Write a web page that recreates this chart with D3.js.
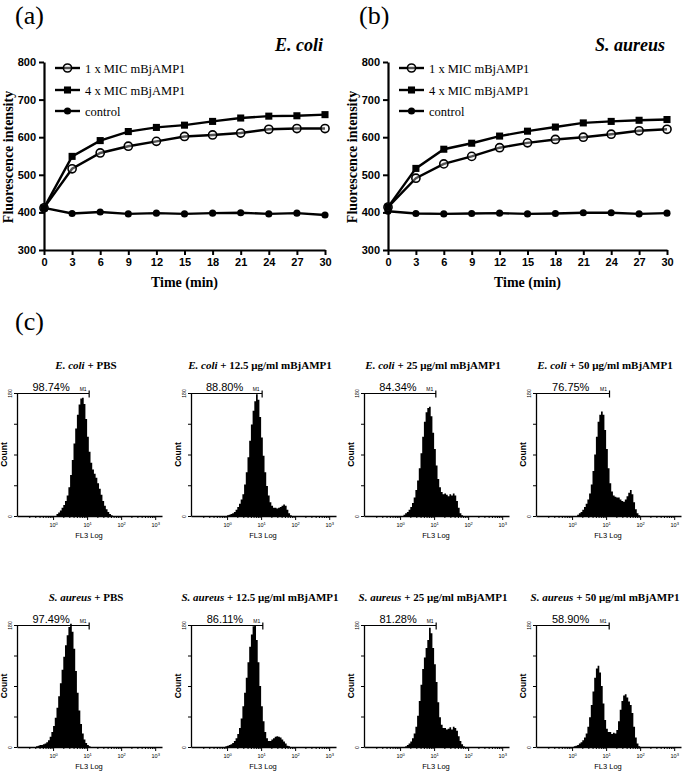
<!DOCTYPE html>
<html>
<head>
<meta charset="utf-8">
<script src="https://cdnjs.cloudflare.com/ajax/libs/d3/7.8.5/d3.min.js"></script>
<style>
  body { margin: 0; background: #fff; }
  svg { display: block; }
</style>
</head>
<body>
<svg width="685" height="773"></svg>
<script>
"use strict";

// ---- panels (a) and (b): fluorescence vs time ----
var times = [0, 3, 6, 9, 12, 15, 18, 21, 24, 27, 30];
var yTicks = [300, 400, 500, 600, 700, 800];
var seriesNames = ["1 x MIC mBjAMP1", "4 x MIC mBjAMP1", "control"];

var ecoli1x   = [412, 516, 558, 576, 589, 602, 606, 611, 621, 623, 623];
var ecoli4x   = [412, 549, 591, 615, 626, 632, 642, 651, 656, 657, 660];
var ecoliCtrl = [412, 397, 401, 396, 398, 396, 398, 399, 396, 398, 393];

var aureus1x   = [414, 491, 529, 549, 572, 585, 594, 600, 608, 617, 621];
var aureus4x   = [414, 517, 568, 584, 603, 616, 627, 638, 642, 645, 647];
var aureusCtrl = [403, 397, 396, 397, 398, 396, 397, 399, 399, 396, 398];

// ---- panel (c): flow cytometry histograms (bins of 0.05 log units) ----
var binStep = 0.05;
var decades = [1, 10, 100, 1000];
var countTicks = [0, 45, 90, 135, 180];

var ecoliPBS = [3, 5, 8, 12, 16, 22, 30, 42, 60, 82, 106, 128, 148, 163, 172, 173, 164, 142, 116, 94, 78, 68, 62, 56, 48, 40, 31, 22, 15, 10, 6, 3, 1];
var ecoli12 = [1, 2, 3, 4, 6, 9, 13, 18, 24, 32, 46, 64, 86, 110, 134, 154, 168, 178, 170, 145, 115, 88, 64, 44, 30, 20, 15, 12, 12, 11, 12, 13, 15, 17, 15, 9, 4, 1];
var ecoli25 = [2, 4, 6, 9, 13, 19, 27, 38, 52, 70, 92, 116, 138, 152, 158, 160, 146, 122, 98, 74, 54, 42, 35, 32, 33, 31, 29, 32, 30, 33, 30, 22, 12, 4, 1];
var ecoli50 = [2, 4, 6, 9, 13, 18, 24, 33, 46, 66, 90, 116, 138, 148, 153, 148, 126, 98, 70, 48, 36, 30, 28, 27, 27, 24, 22, 21, 24, 29, 34, 38, 32, 20, 10, 4, 1];
var aureusPBS = [1, 2, 3, 3, 4, 5, 7, 10, 15, 22, 31, 43, 58, 75, 94, 114, 133, 150, 165, 177, 182, 170, 145, 112, 80, 54, 34, 20, 11, 6, 3, 1];
var aureus12 = [1, 2, 3, 4, 6, 9, 13, 19, 28, 42, 60, 80, 102, 125, 148, 166, 178, 180, 158, 125, 90, 60, 38, 22, 13, 9, 9, 11, 13, 15, 16, 15, 14, 11, 8, 5, 2, 1];
var aureus25 = [1, 3, 5, 8, 13, 20, 30, 46, 68, 92, 115, 132, 146, 158, 176, 168, 146, 122, 96, 66, 44, 33, 28, 28, 26, 27, 29, 26, 30, 28, 24, 16, 9, 4, 1];
var aureus50 = [1, 2, 3, 5, 7, 10, 14, 20, 30, 44, 62, 82, 102, 116, 120, 110, 90, 64, 40, 27, 22, 22, 19, 21, 20, 25, 38, 55, 68, 76, 78, 73, 67, 62, 50, 30, 14, 5, 1];

var histCounts = [ecoliPBS, ecoli12, ecoli25, ecoli50, aureusPBS, aureus12, aureus25, aureus50];
var histStarts = [0.1, 0.0, 0.1, 0.15, -0.5, -0.05, 0.15, 0.05];
var histSpecies = ["E. coli", "E. coli", "E. coli", "E. coli", "S. aureus", "S. aureus", "S. aureus", "S. aureus"];
var histTreat = [" + PBS", " + 12.5 μg/ml mBjAMP1", " + 25 μg/ml mBjAMP1", " + 50 μg/ml mBjAMP1",
                 " + PBS", " + 12.5 μg/ml mBjAMP1", " + 25 μg/ml mBjAMP1", " + 50 μg/ml mBjAMP1"];
var histPercent = ["98.74%", "88.80%", "84.34%", "76.75%", "97.49%", "86.11%", "81.28%", "58.90%"];
var gateEnds = [1.06, 1.03, 1.05, 1.1, 1.06, 1.05, 1.06, 1.09];

var svg = d3.select("svg");
var serif = "'Liberation Serif', 'Times New Roman', serif";
var sans = "'Liberation Sans', Arial, sans-serif";

function draw_time_panel(opt) {
  var x = d3.scaleLinear().domain([0, 30]).range([opt.x0, opt.x1]);
  var y = d3.scaleLinear().domain([300, 800]).range([250, 62]);
  var g = svg.append("g");

  g.append("text")
    .attr("x", opt.labelX).attr("y", 24)
    .style("font-family", serif).style("font-size", "26px")
    .text(opt.label);

  g.append("text")
    .attr("x", opt.x1 - 2).attr("y", 51)
    .attr("text-anchor", "end")
    .style("font-family", serif).style("font-size", "18px")
    .style("font-weight", "bold").style("font-style", "italic")
    .text(opt.species);

  var yAxis = g.append("g")
    .attr("transform", "translate(" + opt.x0 + ",0)")
    .call(d3.axisLeft(y).tickValues(yTicks).tickSize(5).tickSizeOuter(0).tickPadding(3));
  var xAxis = g.append("g")
    .attr("transform", "translate(0,250)")
    .call(d3.axisBottom(x).tickValues(times).tickSize(5).tickSizeOuter(0).tickPadding(3));

  [yAxis, xAxis].forEach(function (a) {
    a.select(".domain").attr("stroke-width", 2.2);
    a.selectAll(".tick line").attr("stroke-width", 2);
    a.selectAll(".tick text")
      .style("font-family", sans).style("font-size", "11px")
      .style("font-weight", "bold").attr("fill", "#000");
  });

  g.append("text")
    .attr("transform", "translate(" + (opt.x0 - 31) + ",157) rotate(-90)")
    .attr("text-anchor", "middle")
    .style("font-family", serif).style("font-size", "14px").style("font-weight", "bold")
    .text("Fluorescence intensity");

  g.append("text")
    .attr("x", (opt.x0 + opt.x1) / 2).attr("y", 287)
    .attr("text-anchor", "middle")
    .style("font-family", serif).style("font-size", "14px").style("font-weight", "bold")
    .text("Time (min)");

  var line = d3.line()
    .x(function (d, i) { return x(times[i]); })
    .y(function (d) { return y(d); });

  // draw control first, then 1x, then 4x
  [2, 0, 1].forEach(function (k) {
    var values = opt.series[k];
    g.append("path")
      .datum(values)
      .attr("d", line)
      .attr("fill", "none")
      .attr("stroke", "#000")
      .attr("stroke-width", 2.4);
    var pts = g.append("g").selectAll("path")
      .data(values)
      .enter().append("path")
      .attr("transform", function (d, i) { return "translate(" + x(times[i]) + "," + y(d) + ")"; });
    style_marker(pts, k);
  });

  // legend
  var legY = [68, 90, 111];
  seriesNames.forEach(function (name, k) {
    var lx = opt.x0 + 11;
    g.append("line")
      .attr("x1", lx).attr("x2", lx + 25)
      .attr("y1", legY[k]).attr("y2", legY[k])
      .attr("stroke", "#000").attr("stroke-width", 2.4);
    var m = g.append("path")
      .attr("transform", "translate(" + (lx + 12.5) + "," + legY[k] + ")");
    style_marker(m, k);
    g.append("text")
      .attr("x", lx + 30).attr("y", legY[k] + 4.5)
      .style("font-family", serif).style("font-size", "12.5px")
      .text(name);
  });
}

function style_marker(sel, k) {
  if (k === 0) {
    sel.attr("d", d3.symbol(d3.symbolCircle, 52)())
      .attr("fill", "#eee").attr("fill-opacity", 0.35)
      .attr("stroke", "#000").attr("stroke-width", 1.6);
  } else if (k === 1) {
    sel.attr("d", d3.symbol(d3.symbolSquare, 50)())
      .attr("fill", "#000");
  } else {
    sel.attr("d", d3.symbol(d3.symbolCircle, 40)())
      .attr("fill", "#000");
  }
}

draw_time_panel({ x0: 44, x1: 325, label: "(a)", labelX: 15, species: "E. coli",
  series: [ecoli1x, ecoli4x, ecoliCtrl] });
draw_time_panel({ x0: 388, x1: 667, label: "(b)", labelX: 359, species: "S. aureus",
  series: [aureus1x, aureus4x, aureusCtrl] });

svg.append("text")
  .attr("x", 15).attr("y", 330)
  .style("font-family", serif).style("font-size", "26px")
  .text("(c)");

// ---- histograms ----
var histX0 = [17, 191, 364, 536];
var histRows = [{ top: 393, bottom: 516 }, { top: 625, bottom: 747 }];
var histWidth = 145;

function draw_hist(idx) {
  var col = idx % 4, row = histRows[Math.floor(idx / 4)];
  var x0 = histX0[col];
  var x = d3.scaleLog().domain([Math.pow(10, -1.06), Math.pow(10, 3.2)]).range([x0, x0 + histWidth]);
  var y = d3.scaleLinear().domain([0, 180]).range([row.bottom, row.top]);
  var g = svg.append("g");

  // title
  var t = g.append("text")
    .attr("x", x0 + 69).attr("y", row.top - 24)
    .attr("text-anchor", "middle")
    .style("font-family", serif).style("font-size", "11px").style("font-weight", "bold");
  t.append("tspan").style("font-style", "italic").text(histSpecies[idx]);
  t.append("tspan").text(histTreat[idx]);

  // filled histogram
  var counts = histCounts[idx];
  var pts = counts.map(function (c, i) { return [histStarts[idx] + i * binStep, c]; });
  pts.push([histStarts[idx] + counts.length * binStep, 0]);
  var area = d3.area()
    .curve(d3.curveStepAfter)
    .x(function (d) { return x(Math.pow(10, d[0])); })
    .y0(row.bottom)
    .y1(function (d) { return y(d[1]); });
  g.append("path")
    .datum(pts)
    .attr("d", area)
    .attr("fill", "#000");

  // axes
  var minor = [];
  [0.1, 1, 10, 100, 1000].forEach(function (dec) {
    for (var m = 2; m <= 9; m++) {
      if (dec * m < Math.pow(10, 3.2)) minor.push(dec * m);
    }
  });
  g.append("g")
    .attr("transform", "translate(0," + row.bottom + ")")
    .call(d3.axisBottom(x).tickValues(minor).tickSize(2).tickSizeOuter(0).tickFormat(""))
    .call(function (a) { a.select(".domain").attr("stroke-width", 1.3); });
  var major = g.append("g")
    .attr("transform", "translate(0," + row.bottom + ")")
    .call(d3.axisBottom(x).tickValues(decades).tickSize(4).tickSizeOuter(0).tickFormat(""));
  major.select(".domain").remove();
  major.selectAll(".tick").append("text")
    .attr("y", 11).attr("fill", "#000")
    .attr("text-anchor", "middle")
    .style("font-family", sans).style("font-size", "5.5px")
    .each(function (d) {
      var el = d3.select(this);
      el.append("tspan").text("10");
      el.append("tspan").attr("dy", -2).style("font-size", "4px").text(Math.round(Math.log10(d)));
    });

  var yAx = g.append("g")
    .attr("transform", "translate(" + x0 + ",0)")
    .call(d3.axisLeft(y).tickValues(countTicks).tickSize(3).tickSizeOuter(0).tickFormat(""));
  yAx.select(".domain").attr("stroke-width", 1.3);
  yAx.selectAll(".tick")
    .filter(function (d) { return d === 0 || d === 180; })
    .append("text")
    .attr("transform", "translate(-5,0) rotate(-90)")
    .attr("text-anchor", "middle").attr("fill", "#000")
    .style("font-family", sans).style("font-size", "5px")
    .text(function (d) { return d; });

  g.append("text")
    .attr("transform", "translate(" + (x0 - 10) + "," + ((row.top + row.bottom) / 2) + ") rotate(-90)")
    .attr("text-anchor", "middle")
    .style("font-family", sans).style("font-size", "8.5px").style("font-weight", "bold")
    .text("Count");

  g.append("text")
    .attr("x", x0 + 72).attr("y", row.bottom + 22)
    .attr("text-anchor", "middle")
    .style("font-family", sans).style("font-size", "7.5px")
    .text("FL3 Log");

  // M1 gate marker
  var gx = x(Math.pow(10, gateEnds[idx]));
  var gy = row.top + 0.5;
  g.append("path")
    .attr("d", "M" + x0 + "," + gy + "H" + gx + "M" + gx + "," + (gy - 3) + "V" + (gy + 4))
    .attr("fill", "none").attr("stroke", "#000").attr("stroke-width", 1.2);
  g.append("text")
    .attr("x", (x0 + gx) / 2 - 2).attr("y", gy - 2.5)
    .attr("text-anchor", "middle")
    .style("font-family", sans).style("font-size", "11px")
    .text(histPercent[idx]);
  g.append("text")
    .attr("x", gx - 6).attr("y", gy - 3)
    .attr("text-anchor", "middle")
    .style("font-family", sans).style("font-size", "5px")
    .text("M1");
}

histCounts.forEach(function (d, i) { draw_hist(i); });
</script>
</body>
</html>
